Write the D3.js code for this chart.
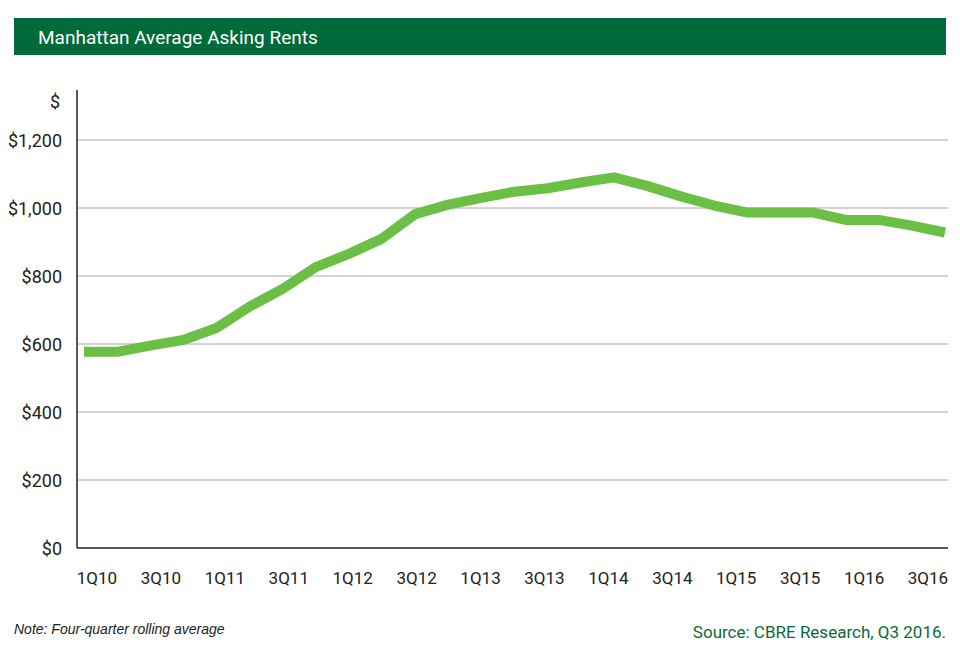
<!DOCTYPE html>
<html lang="en">
<head>
<meta charset="UTF-8">
<title>Manhattan Average Asking Rents</title>
<style>
  body { margin: 0; background: #fff; }
  svg text { font-family: "Roboto", "Liberation Sans", sans-serif; }
</style>
<script src="https://d3js.org/d3.v7.min.js"></script>
</head>
<body>
<div id="chart"></div>
<script>
// quarterly data, four-quarter rolling average
var quarters = ["1Q10","2Q10","3Q10","4Q10","1Q11","2Q11","3Q11","4Q11","1Q12","2Q12","3Q12","4Q12",
  "1Q13","2Q13","3Q13","4Q13","1Q14","2Q14","3Q14","4Q14","1Q15","2Q15","3Q15","4Q15","1Q16","2Q16","3Q16"];
var rents = [577,577,595,612,647,710,762,826,865,910,982,1010,1030,1048,1058,1075,1090,1065,1035,1008,
  987,987,987,965,965,948,928];
var tickLabels = ["1Q10","3Q10","1Q11","3Q11","1Q12","3Q12","1Q13","3Q13","1Q14","3Q14","1Q15","3Q15","1Q16","3Q16"];
var yTicks = [0,200,400,600,800,1000,1200];

var svg = d3.select("#chart").append("svg").attr("width", 960).attr("height", 655);

// title bar
svg.append("rect").attr("x", 14).attr("y", 18).attr("width", 932).attr("height", 37).attr("fill", "#006a3a");
svg.append("text").attr("x", 38).attr("y", 44).attr("fill", "#fff").attr("font-size", 19).text("Manhattan Average Asking Rents");

var y = d3.scaleLinear().domain([0, 1200]).range([548, 140]);
var x = d3.scalePoint().domain(quarters).range([84, 945]);
var xl = d3.scalePoint().domain(tickLabels).range([97, 928]);

// gridlines
svg.append("g").selectAll("line").data(yTicks).enter().append("line")
  .attr("x1", 77).attr("x2", 948)
  .attr("y1", function(d) { return y(d); }).attr("y2", function(d) { return y(d); })
  .attr("stroke", function(d) { return d === 0 ? "#222" : "#aaa"; })
  .attr("stroke-width", function(d) { return d === 0 ? 1.5 : 1; });

svg.append("line").attr("x1", 77).attr("x2", 77).attr("y1", 90).attr("y2", 548)
  .attr("stroke", "#222").attr("stroke-width", 1.5);

// y labels
svg.append("g").selectAll("text").data(yTicks).enter().append("text")
  .attr("x", 62).attr("y", function(d) { return y(d) + 7; })
  .attr("text-anchor", "end").attr("font-size", 18).attr("fill", "#222")
  .text(function(d) { return "$" + d3.format(",")(d); });
svg.append("text").attr("x", 60).attr("y", 108).attr("text-anchor", "end")
  .attr("font-size", 18).attr("fill", "#222").text("$");

// x labels
svg.append("g").selectAll("text").data(tickLabels).enter().append("text")
  .attr("x", function(d) { return xl(d); }).attr("y", 584)
  .attr("text-anchor", "middle").attr("font-size", 17).attr("fill", "#222")
  .text(function(d) { return d; });

// line
var line = d3.line()
  .x(function(d, i) { return x(quarters[i]); })
  .y(function(d) { return y(d); });
svg.append("path").datum(rents).attr("d", line)
  .attr("fill", "none").attr("stroke", "#6cbf45").attr("stroke-width", 10)
  .attr("stroke-linejoin", "round");

// notes
svg.append("text").attr("x", 14).attr("y", 634).attr("font-size", 14)
  .attr("font-style", "italic").attr("fill", "#222")
  .style("font-family", "Liberation Sans, sans-serif").text("Note: Four-quarter rolling average");
svg.append("text").attr("x", 946).attr("y", 638).attr("text-anchor", "end").attr("font-size", 17)
  .attr("fill", "#0a6a3a").text("Source: CBRE Research, Q3 2016.");
</script>
</body>
</html>
